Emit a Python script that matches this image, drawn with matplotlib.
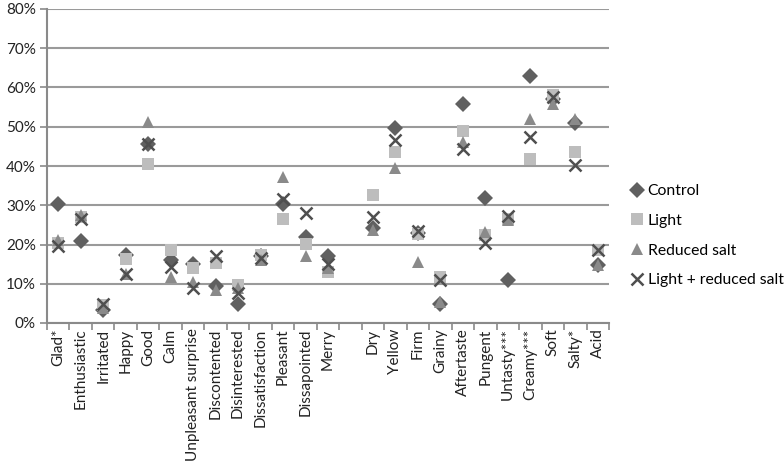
import matplotlib
matplotlib.use("Agg")
import matplotlib.pyplot as plt
import numpy as np

plt.rcParams['font.family'] = ['Lato', 'DejaVu Sans']

categories = ["Glad*", "Enthusiastic", "Irritated", "Happy", "Good", "Calm",
              "Unpleasant surprise", "Discontented", "Disinterested", "Dissatisfaction",
              "Pleasant", "Dissapointed", "Merry", "",
              "Dry", "Yellow", "Firm", "Grainy", "Aftertaste", "Pungent",
              "Untasty***", "Creamy***", "Soft", "Salty*", "Acid"]

control = [30.4, 21.0, 3.2, 17.2, 45.7, 16.0, 15.1, 9.4, 4.8, 17.0,
           30.4, 21.8, 17.1, None,
           24.2, 49.8, 23.0, 4.9, 55.8, 31.9, 10.9, 62.9, 57.0, 51.0, 14.7]
light = [20.5, 27.0, 4.5, 16.4, 40.5, 18.7, 14.0, 15.3, 9.8, 17.3,
         26.6, 20.2, 13.0, None,
         32.7, 43.5, 22.8, 11.6, 49.0, 22.4, 26.6, 41.9, 58.1, 43.6, 18.7]
reduced = [21.2, 27.5, 3.7, 12.6, 51.3, 11.6, 10.5, 8.5, 8.8, 16.0,
           37.2, 17.0, 13.9, None,
           23.8, 39.5, 15.6, 5.4, 46.2, 23.2, 26.2, 52.0, 55.8, 52.1, 14.7]
light_reduced = [19.6, 26.6, 4.8, 12.6, 45.7, 14.3, 8.8, 17.1, 7.7, 16.6,
                 31.7, 28.1, 15.1, None,
                 27.0, 46.6, 23.5, 10.9, 44.3, 20.4, 27.2, 47.4, 57.5, 40.2, 18.7]

series = [
    ("Control", control, "D", "#606060", 8.0),
    ("Light", light, "s", "#bdbdbd", 8.5),
    ("Reduced salt", reduced, "^", "#8a8a8a", 9.0),
    ("Light + reduced salt", light_reduced, "x", "#4f4f4f", 9.0),
]

fig = plt.figure(figsize=(7.84, 4.71), dpi=100)
ax = fig.add_axes([47/784, 1-323/471, (609-47)/784, (323-9)/471])

x = np.arange(len(categories))
for name, vals, mk, col, ms in series:
    xs = [xi for xi, v in zip(x, vals) if v is not None]
    ys = [v for v in vals if v is not None]
    if mk == "x":
        ax.plot(xs, ys, linestyle="none", marker=mk, color=col, markersize=ms,
                markeredgewidth=1.8, label=name, zorder=3)
    else:
        ax.plot(xs, ys, linestyle="none", marker=mk, color=col, markersize=ms,
                markeredgewidth=0, label=name, zorder=3)

ax.set_xlim(-0.5, len(categories) - 0.5)
ax.set_ylim(0, 80)
ax.set_yticks(np.arange(0, 81, 10))
ax.set_yticklabels([f"{v}%" for v in range(0, 81, 10)], fontsize=11, color="#222222")
ax.yaxis.grid(True, color="#9a9a9a", linewidth=1.5)
ax.set_axisbelow(True)

ax.set_xticks(np.arange(-0.5, len(categories), 1.0))
ax.set_xticklabels([])
ax.set_xticks(x, minor=True)
ax.set_xticklabels(categories, minor=True, rotation=90, fontsize=11, color="#222222")
ax.tick_params(axis="x", which="minor", length=0, pad=4)
ax.tick_params(axis="x", which="major", length=5, color="#8a8a8a", width=1.2)
ax.tick_params(axis="y", length=5, color="#8a8a8a", width=1.2, pad=3)

for s in ["top", "right"]:
    ax.spines[s].set_visible(False)
for s in ["left", "bottom"]:
    ax.spines[s].set_color("#8a8a8a")
    ax.spines[s].set_linewidth(1.5)

leg = ax.legend(loc="upper left", bbox_to_anchor=(624/784, 1-178/471),
                bbox_transform=fig.transFigure, frameon=False, fontsize=11.3,
                handlelength=0.9, handletextpad=0.2, labelspacing=1.0,
                borderaxespad=0)

fig.savefig("out.png", dpi=100)
